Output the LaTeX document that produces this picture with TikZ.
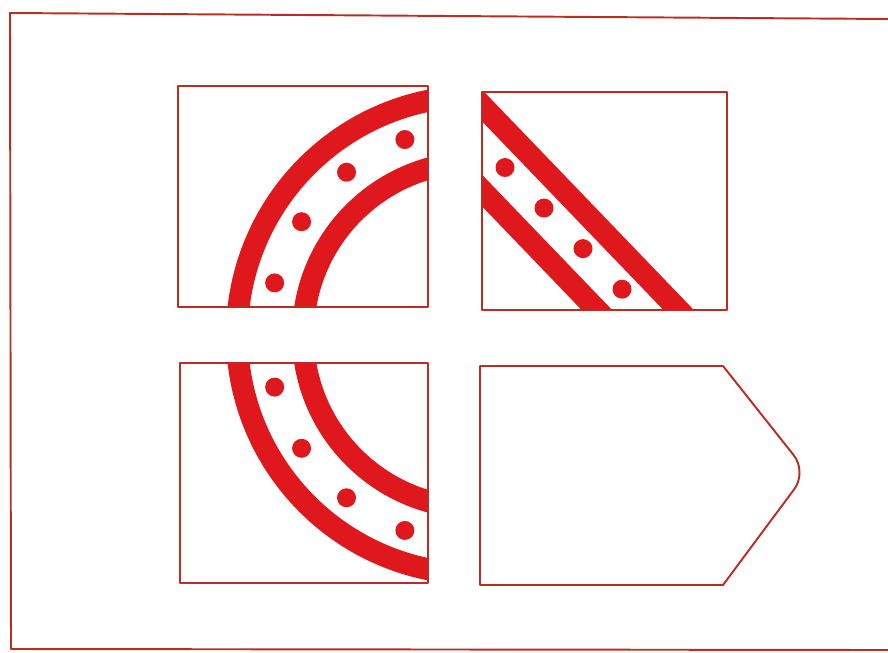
\documentclass[tikz,border=0pt]{standalone}
\usepackage{xcolor}
\usepackage{tikz}
\usetikzlibrary{calc}
\definecolor{bandred}{RGB}{222,24,28}
\definecolor{linered}{RGB}{185,45,35}

\begin{document}
\begin{tikzpicture}[x=0.02cm, y=0.02cm, line join=round,
    box/.style={draw=linered, line width=1.1pt},
    band/.style={draw=bandred, line width=12.5pt},
    dot/.style={fill=bandred}]
  \useasboundingbox (0,0) rectangle (888,-652);
  \coordinate (C) at (476,-335);
  \coordinate (TL1) at (178,-86);
  \coordinate (TL2) at (428,-307);
  \coordinate (BL1) at (180,-363);
  \coordinate (BL2) at (428,-583);
  \coordinate (TR1) at (482,-92);
  \coordinate (TR2) at (727,-310);
  % outer frame
  \draw[box] (888,-19) -- (10,-13) -- (11,-649) -- (888,-650);
  % top left: upper quarter of the ring
  \begin{scope}
    \clip (TL1) rectangle (TL2);
    \draw[band] (C) circle (239);
    \draw[band] (C) circle (173);
    \foreach \a in {110,128.5,147,165.5}
      \fill[dot] ($(C)+(\a:208)$) circle (9.5);
  \end{scope}
  \draw[box] (TL1) rectangle (TL2);
  % bottom left: lower quarter of the ring
  \begin{scope}
    \clip (BL1) rectangle (BL2);
    \draw[band] (C) circle (239);
    \draw[band] (C) circle (173);
    \foreach \a in {194.5,213,231.5,250}
      \fill[dot] ($(C)+(\a:208)$) circle (9.5);
  \end{scope}
  \draw[box] (BL1) rectangle (BL2);
  % top right: straight strip
  \begin{scope}
    \clip (TR1) rectangle (TR2);
    \draw[band] (432,-53.5) -- ++(350,-364);
    \draw[band] (432,-138.5) -- ++(350,-364);
    \foreach \x in {505,544,583,622}
      \fill[dot] (\x,{-143.6-1.04*(\x-482)}) circle (9.5);
  \end{scope}
  \draw[box] (TR1) rectangle (TR2);
  % bottom right: empty piece
  \draw[box] (480,-366) -- (723,-366)
    [rounded corners=12pt] -- (807,-472) [sharp corners] -- (723,-585)
    -- (480,-585) -- cycle;
\end{tikzpicture}
\end{document}
